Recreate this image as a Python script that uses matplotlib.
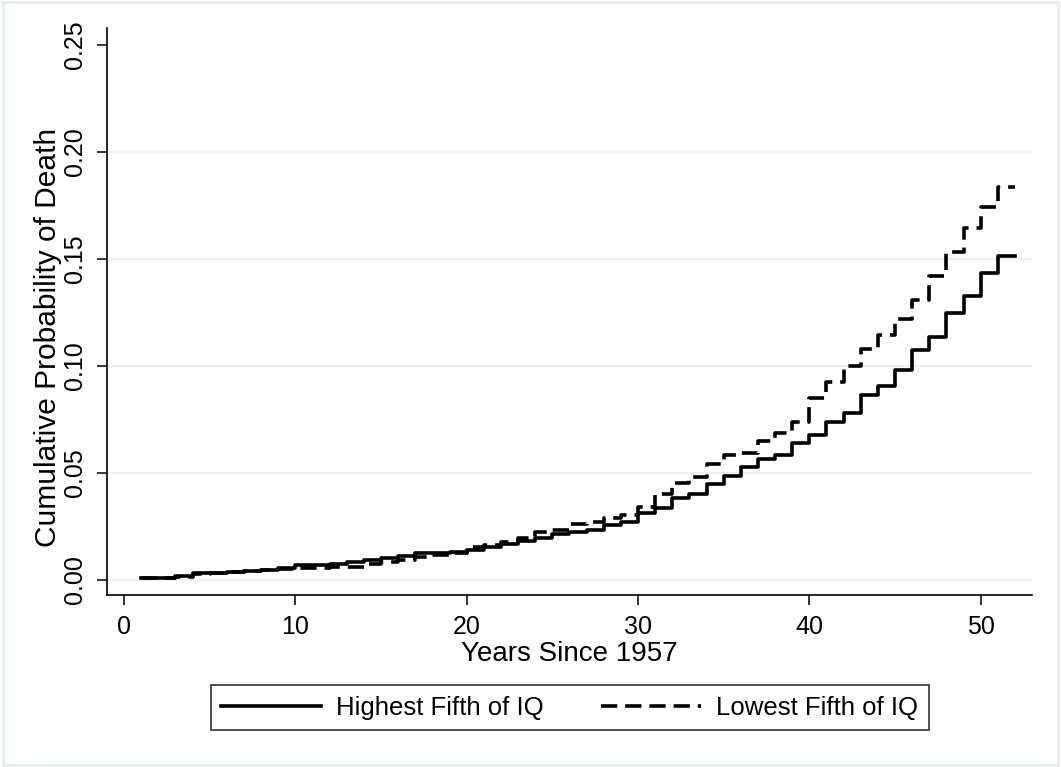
import matplotlib.pyplot as plt
from matplotlib.patches import Rectangle

plt.rcParams['font.family'] = ['Liberation Sans', 'DejaVu Sans']

years = list(range(1, 53))

# cumulative probability of death, step values
highest_iq = [0.0010, 0.0010, 0.0020, 0.0032, 0.0034, 0.0037, 0.0042, 0.0048, 0.0058, 0.0068,
              0.0070, 0.0075, 0.0085, 0.0092, 0.0102, 0.0110, 0.0125, 0.0128, 0.0132, 0.0140,
              0.0156, 0.0168, 0.0184, 0.0195, 0.0215, 0.0226, 0.0234, 0.0257, 0.0273, 0.0312,
              0.0335, 0.0382, 0.0400, 0.0450, 0.0484, 0.0530, 0.0564, 0.0584, 0.0639, 0.0678,
              0.0740, 0.0779, 0.0864, 0.0907, 0.0981, 0.1075, 0.1134, 0.1249, 0.1327, 0.1436,
              0.1514, 0.1514]
lowest_iq = [0.0008, 0.0008, 0.0015, 0.0030, 0.0032, 0.0035, 0.0040, 0.0045, 0.0050, 0.0055,
             0.0058, 0.0060, 0.0063, 0.0075, 0.0085, 0.0095, 0.0108, 0.0118, 0.0127, 0.0153,
             0.0164, 0.0179, 0.0195, 0.0226, 0.0234, 0.0262, 0.0273, 0.0288, 0.0304, 0.0343,
             0.0402, 0.0452, 0.0483, 0.0540, 0.0586, 0.0593, 0.0651, 0.0685, 0.0740, 0.0849,
             0.0927, 0.1000, 0.1078, 0.1145, 0.1218, 0.1308, 0.1421, 0.1534, 0.1643, 0.1744,
             0.1838, 0.1838]

x_ticks = [0, 10, 20, 30, 40, 50]
y_ticks = [0.00, 0.05, 0.10, 0.15, 0.20, 0.25]

grid_col = '#eaf2f3'

fig = plt.figure(figsize=(10.61, 7.67), dpi=100)
fig.patches.append(Rectangle((0.003, 0.003), 0.994, 0.994, transform=fig.transFigure,
                             fill=False, ec='#e3ecef', lw=2))
ax = fig.add_axes([0.1008, 0.2243, 0.8719, 0.7392])

ax.plot(years, highest_iq, drawstyle='steps-post', color='black', lw=2.6,
        label='Highest Fifth of IQ')
ax.plot(years, lowest_iq, drawstyle='steps-post', color='black', lw=2.6,
        dashes=(4.5, 2.2), label='Lowest Fifth of IQ')

ax.set_xlim(-1, 53)
ax.set_ylim(-0.007, 0.258)
ax.set_xticks(x_ticks)
ax.set_yticks(y_ticks)
ax.set_yticklabels(['%.2f' % v for v in y_ticks], rotation=90, va='center')

ax.grid(axis='y', color=grid_col, lw=1.6)
ax.get_ygridlines()[-1].set_visible(False)
ax.set_axisbelow(True)

for s in ['top', 'right']:
    ax.spines[s].set_visible(False)
for s in ['left', 'bottom']:
    ax.spines[s].set_linewidth(1.2)
ax.tick_params(length=7.5, width=1.1, labelsize=18, pad=7)

ax.set_xlabel('Years Since 1957', fontsize=20, va='center')
ax.xaxis.set_label_coords(0.5, -0.1035)
ax.set_ylabel('Cumulative Probability of Death', fontsize=21.5, va='center')
ax.yaxis.set_label_coords(-0.0638, 0.455)

leg = fig.legend(loc='center', bbox_to_anchor=(0.5368, 0.0775), ncol=2, fontsize=18.5,
                 frameon=True, fancybox=False, edgecolor='black', handlelength=3.9,
                 handletextpad=0.6, columnspacing=2.2, borderpad=0.4)
leg.get_frame().set_linewidth(1.2)

fig.savefig('out.png', dpi=100, facecolor='white')
